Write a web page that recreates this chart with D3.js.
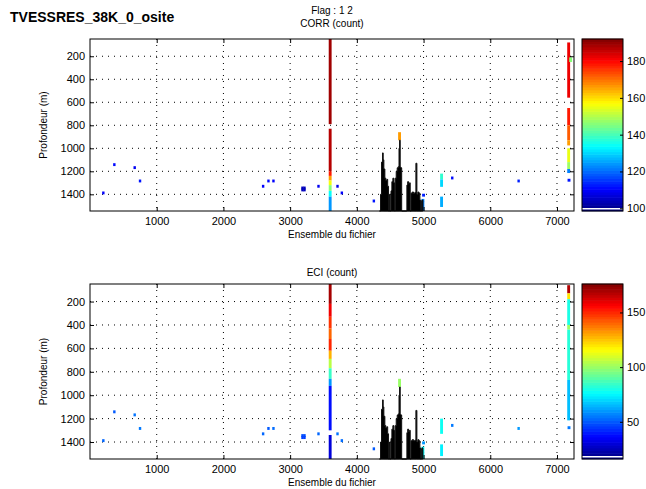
<!DOCTYPE html>
<html>
<head>
<meta charset="utf-8">
<script src="https://cdn.jsdelivr.net/npm/d3@7"></script>
<style>
  body { margin: 0; background: #fff; }
  svg { display: block; font-family: "Liberation Sans", Arial, sans-serif; }
  .tick text { font-size: 11px; fill: #000; }
  .grid line { stroke: #000; stroke-width: 1; stroke-dasharray: 1,5; }
</style>
</head>
<body>
<svg id="chart" width="646" height="489"></svg>
<script>
// ---- data ----
const ensTicks = [1000, 2000, 3000, 4000, 5000, 6000, 7000];
const depthTicks = [200, 400, 600, 800, 1000, 1200, 1400];
const corrTicks = [100, 120, 140, 160, 180];
const eciTicks = [50, 100, 150];

// isolated cells : ensemble, depth
const dotEns   = [200, 365, 670, 750, 2595, 2675, 2750, 3185, 3215, 3185, 3215, 3425, 3710, 3775, 4255, 5430, 6425];
const dotDepth = [1388, 1142, 1168, 1284, 1330, 1284, 1284, 1345, 1345, 1362, 1362, 1330, 1330, 1388, 1458, 1258, 1284];
const dotCorr  = [110, 111, 109, 112, 110, 111, 110, 104, 104, 104, 104, 109, 108, 110, 112, 111, 113];
const dotEci   = [52, 50, 54, 55, 52, 50, 53, 48, 48, 46, 46, 52, 54, 53, 50, 55, 60];

// profile segments : [ensemble, depth from, depth to, value]
const corrSegs = [
  [3600, 50, 790, 189], [3600, 830, 1200, 187], [3600, 1200, 1240, 178],
  [3600, 1240, 1280, 166], [3600, 1280, 1320, 156], [3600, 1320, 1370, 146],
  [3600, 1370, 1420, 134], [3600, 1420, 1545, 124],
  [7175, 80, 560, 182], [7205, 210, 250, 146], [7175, 650, 800, 178],
  [7175, 800, 930, 172], [7175, 930, 975, 166], [7175, 1000, 1120, 155],
  [7175, 1120, 1180, 148], [7175, 1180, 1215, 122], [7180, 1265, 1290, 112],
  [4640, 860, 930, 166], [5270, 1220, 1270, 138], [5270, 1270, 1335, 130],
  [5270, 1420, 1510, 126], [4990, 1440, 1545, 122], [5000, 1395, 1420, 113]
];
const eciSegs = [
  [3600, 50, 220, 170], [3600, 220, 330, 158], [3600, 330, 430, 148],
  [3600, 430, 520, 140], [3600, 520, 620, 150], [3600, 620, 690, 128],
  [3600, 690, 770, 105], [3600, 770, 860, 85], [3600, 860, 920, 60],
  [3600, 920, 1300, 38], [3600, 1340, 1545, 30],
  [7175, 60, 130, 168], [7175, 130, 180, 120], [7175, 180, 400, 80],
  [7175, 400, 440, 100], [7175, 440, 870, 82], [7175, 870, 1215, 66],
  [7180, 1265, 1290, 55],
  [4640, 860, 930, 100], [5270, 1200, 1330, 78], [5270, 1420, 1520, 74],
  [4990, 1440, 1545, 76], [5000, 1395, 1420, 60]
];

// bottom track (black)
const trackEns   = [4340, 4355, 4370, 4385, 4395, 4405, 4420, 4435, 4450, 4462, 4475, 4490, 4500, 4512, 4525, 4540, 4555, 4565, 4575, 4590, 4605, 4620, 4632, 4640, 4650, 4662, 4672, 4740, 4750, 4762, 4775, 4790, 4800, 4812, 4830, 4850, 4870, 4885, 4893, 4900, 4915, 4930, 4945, 4955, 4965, 4975, 4990];
const trackDepth = [1545, 1400, 1120, 1040, 1100, 1180, 1260, 1280, 1270, 1330, 1545, 1400, 1545, 1370, 1290, 1260, 1300, 1545, 1260, 1200, 1170, 1160, 1000, 930, 1165, 1170, 1545, 1545, 1320, 1290, 1310, 1300, 1545, 1390, 1380, 1390, 1385, 1130, 1130, 1400, 1380, 1390, 1450, 1545, 1460, 1450, 1545];

// ---- drawing ----
const svg = d3.select("#chart");
const left = 90, right = 574, cbLeft = 582, cbRight = 623;
const ensDomain = [0, 7255], depthDomain = [50, 1545];
const cellW = 36, cellH = 25;

function jet(t) {
  t = Math.max(0, Math.min(1, t));
  const c = v => Math.round(255 * Math.max(0, Math.min(1, v)));
  return `rgb(${c(1.5 - Math.abs(4 * t - 3))},${c(1.5 - Math.abs(4 * t - 2))},${c(1.5 - Math.abs(4 * t - 1))})`;
}

svg.append("text").attr("x", 10).attr("y", 22)
  .style("font-size", "14px").style("font-weight", "bold")
  .text("TVESSRES_38K_0_osite");
svg.append("text").attr("x", 332).attr("y", 14).attr("text-anchor", "middle")
  .style("font-size", "10px").text("Flag : 1  2");

function panel(top, bottom, title, titleY, dots, segs, cDomain, cTicks) {
  const x = d3.scaleLinear().domain(ensDomain).range([left, right]);
  const y = d3.scaleLinear().domain(depthDomain).range([top, bottom]);
  const color = d3.scaleSequential(jet).domain(cDomain);
  const g = svg.append("g");

  g.append("text").attr("x", 332).attr("y", titleY).attr("text-anchor", "middle")
    .style("font-size", "10px").text(title);

  // grid
  const grid = g.append("g").attr("class", "grid");
  grid.selectAll(".v").data(ensTicks).enter().append("line")
    .attr("x1", d => x(d)).attr("x2", d => x(d)).attr("y1", top).attr("y2", bottom);
  grid.selectAll(".h").data(depthTicks).enter().append("line")
    .attr("y1", d => y(d)).attr("y2", d => y(d)).attr("x1", left).attr("x2", right);

  // isolated cells
  g.selectAll(".dot").data(dots).enter().append("rect")
    .attr("x", d => x(d[0] - cellW / 2))
    .attr("y", d => y(d[1] - cellH / 2))
    .attr("width", x(cellW) - x(0))
    .attr("height", y(cellH) - y(0))
    .attr("fill", d => color(d[2]));

  // profiles
  g.selectAll(".seg").data(segs).enter().append("rect")
    .attr("x", d => x(d[0] - cellW * 0.6))
    .attr("y", d => y(d[1]))
    .attr("width", x(cellW * 1.2) - x(0))
    .attr("height", d => y(d[2]) - y(d[1]))
    .attr("fill", d => color(d[3]));

  // bottom track
  const track = trackEns.map((e, i) => [e, trackDepth[i]]);
  const area = d3.area().curve(d3.curveStepAfter)
    .x(d => x(d[0])).y0(y(depthDomain[1])).y1(d => y(d[1]));
  g.append("path").datum(track).attr("d", area)
    .attr("fill", "#000").attr("stroke", "#111").attr("stroke-width", 1);

  // axes
  const fmt = d3.format("d");
  g.append("g").attr("transform", `translate(0,${bottom})`)
    .call(d3.axisBottom(x).tickValues(ensTicks).tickFormat(fmt).tickSizeInner(-4).tickSizeOuter(0).tickPadding(6));
  g.append("g").attr("transform", `translate(0,${top})`)
    .call(d3.axisTop(x).tickValues(ensTicks).tickSizeInner(-4).tickSizeOuter(0).tickFormat(""));
  g.append("g").attr("transform", `translate(${left},0)`)
    .call(d3.axisLeft(y).tickValues(depthTicks).tickFormat(fmt).tickSizeInner(-4).tickSizeOuter(0).tickPadding(5));
  g.append("g").attr("transform", `translate(${right},0)`)
    .call(d3.axisRight(y).tickValues(depthTicks).tickSizeInner(-4).tickSizeOuter(0).tickFormat(""));
  g.selectAll(".domain").remove();
  g.append("rect").attr("x", left).attr("y", top).attr("width", right - left).attr("height", bottom - top)
    .attr("fill", "none").attr("stroke", "#000");

  g.append("text").attr("x", (left + right) / 2).attr("y", bottom + 27).attr("text-anchor", "middle")
    .style("font-size", "10px").text("Ensemble du fichier");
  g.append("text").attr("transform", `translate(47,${(top + bottom) / 2}) rotate(-90)`)
    .attr("text-anchor", "middle").style("font-size", "10px").text("Profondeur (m)");

  // colorbar
  const cy = d3.scaleLinear().domain(cDomain).range([bottom, top]);
  const step = (cDomain[1] - cDomain[0]) / 64;
  const levels = d3.range(64).map(i => cDomain[0] + (i + 0.5) * step);
  g.selectAll(".cb").data(levels).enter().append("rect")
    .attr("x", cbLeft).attr("width", cbRight - cbLeft)
    .attr("y", d => cy(d + step / 2) - 0.3)
    .attr("height", cy(0) - cy(step) + 0.6)
    .attr("fill", d => color(d));
  g.append("rect").attr("x", cbLeft).attr("y", bottom - 3).attr("width", cbRight - cbLeft).attr("height", 1.5)
    .attr("fill", "#fff");
  g.append("g").attr("transform", `translate(${cbRight},0)`)
    .call(d3.axisRight(cy).tickValues(cTicks).tickSizeInner(-3).tickSizeOuter(0).tickPadding(4))
    .select(".domain").remove();
  g.append("rect").attr("x", cbLeft).attr("y", top).attr("width", cbRight - cbLeft).attr("height", bottom - top)
    .attr("fill", "none").attr("stroke", "#000");
}

const corrDots = dotEns.map((e, i) => [e, dotDepth[i], dotCorr[i]]);
const eciDots = dotEns.map((e, i) => [e, dotDepth[i], dotEci[i]]);
panel(39, 211, "CORR (count)", 27, corrDots, corrSegs, [98.5, 192], corrTicks);
panel(284, 459, "ECI (count)", 276, eciDots, eciSegs, [16, 176], eciTicks);
</script>
</body>
</html>
